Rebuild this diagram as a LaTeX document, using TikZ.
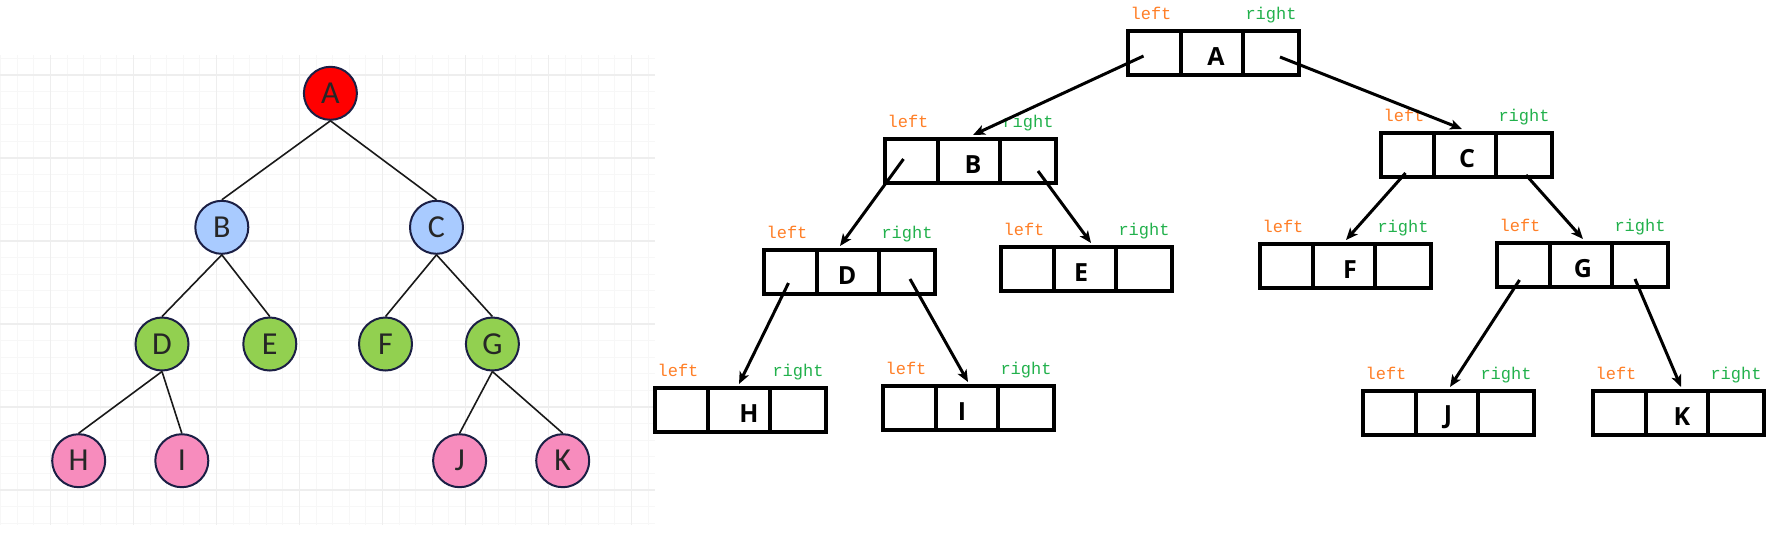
\documentclass[tikz,border=0pt]{standalone}
\usepackage{fontspec}
\usetikzlibrary{arrows.meta,positioning,calc}
\newfontfamily\circfont{Carlito}
\newfontfamily\cellfont{Open Sans}
\newfontfamily\ptrfont{Liberation Mono}
\definecolor{rootred}{HTML}{FF0000}
\definecolor{lvlblue}{HTML}{A9CBFF}
\definecolor{lvlgreen}{HTML}{92D050}
\definecolor{leafpink}{HTML}{F78CBD}
\definecolor{ringnavy}{HTML}{1B1F45}
\definecolor{leftorange}{HTML}{FF7F27}
\definecolor{rightgreen}{HTML}{22B14C}
\definecolor{gridminor}{HTML}{F7F7F7}
\definecolor{gridmajor}{HTML}{EEEEEE}
\tikzset{
  treenode/.style={circle, draw=ringnavy, line width=1pt, minimum size=26.5pt,
    inner sep=0pt, font=\circfont\fontsize{16}{16}\selectfont, text=black!85},
  treeline/.style={line width=0.8pt, draw=black!90},
  cell/.style={draw, line width=2pt, minimum height=22pt, inner sep=0pt, outer sep=0pt},
  keytext/.style={font=\cellfont\bfseries\fontsize{12.5}{13}\selectfont, inner sep=0pt},
  lefttext/.style={font=\ptrfont\fontsize{8.5}{9}\selectfont, text=leftorange, inner sep=0pt},
  righttext/.style={font=\ptrfont\fontsize{8.5}{9}\selectfont, text=rightgreen, inner sep=0pt},
  ptrarrow/.style={-{Stealth[length=6pt,width=5pt,inset=1.5pt]}, line width=1.5pt},
  minorgrid/.style={draw=gridminor, line width=0.5pt},
  majorgrid/.style={draw=gridmajor, line width=0.75pt}
}

\begin{document}
\begin{tikzpicture}[x=0.5pt,y=-0.5pt]
  \useasboundingbox[fill=white] (0,0) rectangle (1772,538);

  % grid behind the tree
  \foreach \i in {0,...,39} \draw[minorgrid] (0.7+16.6*\i,55) -- (0.7+16.6*\i,525);
  \foreach \i in {0,...,28} \draw[minorgrid] (0,58.4+16.6*\i) -- (655,58.4+16.6*\i);
  \foreach \i in {0,...,7} \draw[majorgrid] (50.5+83*\i,55) -- (50.5+83*\i,525);
  \foreach \i in {0,...,5} \draw[majorgrid] (0,75+83*\i) -- (655,75+83*\i);

  % tree of circles
  \foreach \n/\x/\y/\c in {A/330.4/93.3/rootred, B/221.8/227.3/lvlblue, C/436.5/227.3/lvlblue,
      D/162/344/lvlgreen, E/269.8/344/lvlgreen, F/385.5/344/lvlgreen, G/492.4/344/lvlgreen,
      H/78.7/460.7/leafpink, I/181.8/460.7/leafpink, J/459.6/460.7/leafpink, K/562.7/460.7/leafpink}
    \node[treenode, fill=\c] (t\n) at (\x,\y) {\n};
  \foreach \p/\q in {A/B,A/C,B/D,B/E,C/F,C/G,D/H,D/I,G/J,G/K}
    \draw[treeline] (t\p.south) -- (t\q.north);

  % linked nodes: left | key | right
  \foreach \n/\x/\y/\dx in {A/1126/29/4, B/883/137/4, C/1379/131/2, D/762/248/-1,
      E/999/245/-4, F/1258/242/6, G/1495/241/2, H/653/386/10, I/881/384/-5,
      J/1361/389/1, K/1591/389/5} {
    \node[cell, minimum width=26.5pt] (\n-l) at (\x+28.5,\y+24) {};
    \node[cell, minimum width=31pt, right=0pt of \n-l] (\n-m) {};
    \node[cell, minimum width=28pt, right=0pt of \n-m] (\n-r) {};
    \node[keytext] (\n-k) at ($(\n-m)+(\dx,4)$) {\n};
    \node[lefttext, anchor=base] (\n-lt) at ($(\n-l.north)+(-3.5,-11.5)$) {left};
    \node[righttext, anchor=base] (\n-rt) at ($(\n-r.north)+(0,-11.5)$) {right};
  }

  % child pointers
  \foreach \a/\b/\dx/\dy/\ex in {A-l/B/-11/3/4, A-r/C/9/4/-3, B-l/D/-8/-2/-8, B-r/E/10/10/6,
      D-l/H/-2/11/0, D-r/I/3/7/1, C-l/F/-2/18/2, C-r/G/2/20/2, G-l/J/-4/15/3, G-r/K/-5/14/4}
    \draw[ptrarrow] ($(\a)+(\dx,\dy)$) -- ($(\b-m.north)+(\ex,-4)$);
\end{tikzpicture}
\end{document}
